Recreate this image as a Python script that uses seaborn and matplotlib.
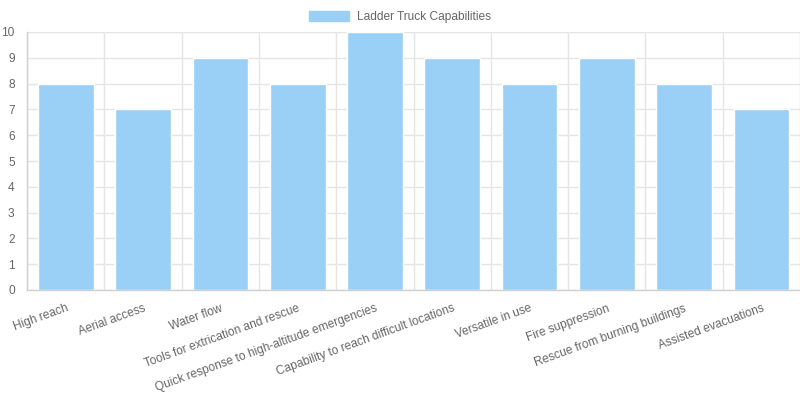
import numpy as np
import pandas as pd
import matplotlib
matplotlib.use("Agg")
import matplotlib.pyplot as plt
import matplotlib.transforms as mtransforms
import seaborn as sns
from matplotlib.patches import Patch

categories = ["High reach", "Aerial access", "Water flow", "Tools for extrication and rescue",
              "Quick response to high-altitude emergencies", "Capability to reach difficult locations",
              "Versatile in use", "Fire suppression", "Rescue from burning buildings",
              "Assisted evacuations"]
values = [8, 7, 9, 8, 10, 9, 8, 9, 8, 7]
series_name = "Ladder Truck Capabilities"

df = pd.DataFrame({"capability": categories, "score": values})

sns.set_style("white")
plt.rcParams['font.family'] = ['Liberation Sans', 'DejaVu Sans']

grid_col = "#e5e5e5"
text_col = "#666666"
bar_col = "#9ad0f5"

fig = plt.figure(figsize=(8, 4), dpi=100)
ax = fig.add_axes([0.034, 0.275, 0.966, 0.645])

sns.barplot(data=df, x="capability", y="score", color=bar_col, saturation=1,
            width=0.72, ax=ax, zorder=2)

n = len(categories)
ax.set_xlim(-0.5, n - 0.5)
ax.set_ylim(0, 10)
ax.set_yticks(range(0, 11))
ax.set_xticks(np.arange(n))
ax.set_xticks(np.arange(-0.5, n, 1.0), minor=True)
ax.set_xticklabels(categories, rotation=20, ha="right", rotation_mode="anchor",
                   fontsize=8.6, color=text_col)
# nudge the rotated labels a little to the right, like the original
shift = mtransforms.ScaledTranslation(2.5 / 100, 0, fig.dpi_scale_trans)
for lbl in ax.get_xticklabels():
    lbl.set_transform(lbl.get_transform() + shift)
ax.tick_params(axis="x", which="major", length=0, pad=9)
ax.tick_params(axis="x", which="minor", length=7, color=grid_col, width=1)
ax.tick_params(axis="y", length=7, color=grid_col, width=1, labelsize=8.6,
               labelcolor=text_col, pad=2)
ax.grid(True, axis="x", which="minor", color=grid_col, lw=1, zorder=0)
ax.grid(True, axis="y", which="major", color=grid_col, lw=1, zorder=0)
ax.grid(False, axis="x", which="major")
ax.set_axisbelow(True)
ax.set_xlabel("")
ax.set_ylabel("")
for s in ["top", "right"]:
    ax.spines[s].set_visible(False)
for s in ["left", "bottom"]:
    ax.spines[s].set_color("#d0d0d0")
    ax.spines[s].set_linewidth(1)

handle = Patch(facecolor=bar_col, edgecolor=bar_col)
fig.legend([handle], [series_name], loc="upper center", bbox_to_anchor=(0.5, 1.0),
           frameon=False, fontsize=8.6, labelcolor=text_col, handlelength=3.4,
           handleheight=0.9, handletextpad=0.7)

fig.savefig("out.png", dpi=100)
